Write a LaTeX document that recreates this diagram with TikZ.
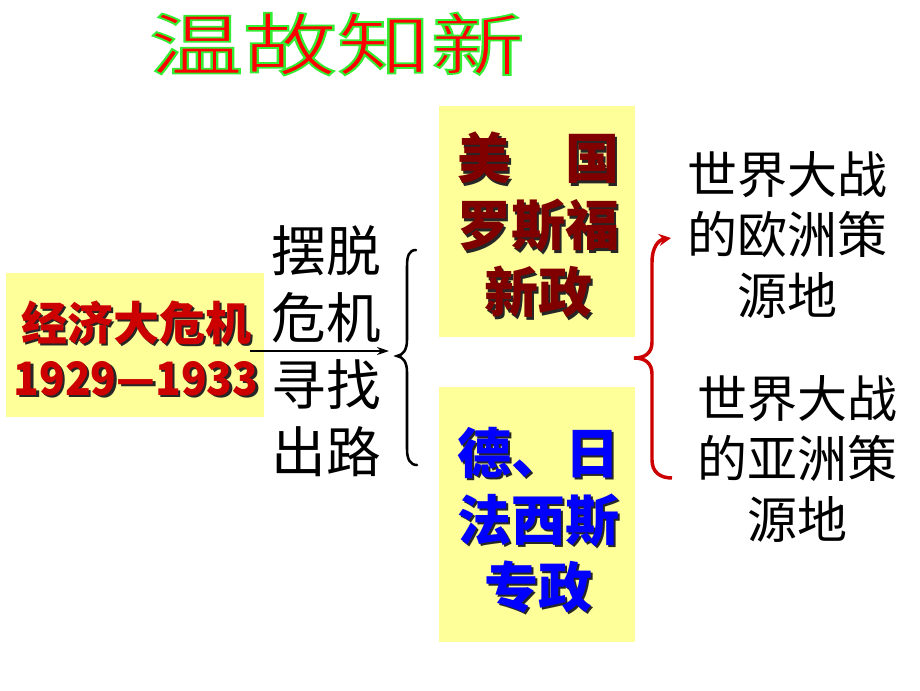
\documentclass[tikz,border=0pt]{standalone}
\usepackage{fontspec}
\newfontfamily\cjk{Noto Sans CJK SC}
\usetikzlibrary{arrows.meta}
\definecolor{boxyellow}{HTML}{FFFF99}
\definecolor{titlered}{HTML}{FF0000}
\definecolor{crisisred}{HTML}{CC0000}
\definecolor{maroon}{HTML}{800000}
\definecolor{fascblue}{HTML}{0000FF}
\definecolor{bracered}{HTML}{CC0000}
\newcommand\outlinedtitle[1]{\special{pdf:literal direct q 2 Tr 1.3 w 0.2 0.93 0.2 RG}#1\special{pdf:literal direct Q}}
\tikzset{
  ybox/.style={fill=boxyellow, inner sep=0pt},
  titletext/.style={inner sep=0pt, font=\cjk\fontsize{51}{60}\selectfont},
  boldtext/.style={inner sep=0pt, align=center, font=\cjk\bfseries\fontsize{40.5}{50.25}\selectfont},
  lefttext/.style={inner sep=0pt, align=center, font=\cjk\bfseries\fontsize{34.5}{41.25}\selectfont},
  midtext/.style={inner sep=0pt, align=center, font=\cjk\fontsize{41}{50.25}\selectfont},
  righttext/.style={inner sep=0pt, align=center, font=\cjk\fontsize{37.5}{45.5}\selectfont},
  shadowtext/.style={text=black!85}
}
\begin{document}
\begin{tikzpicture}[x=0.75pt,y=-0.75pt]
\useasboundingbox (0,0) rectangle (920,690);
\fill[white] (0,0) rectangle (920,690);

% title with green outline
\node[titletext, text=titlered] (title) at (337,44) {\outlinedtitle{\scalebox{1.38}[1]{温故知新}}};

% boxes
\node[ybox, minimum width=193.5pt, minimum height=108pt] (lbox) at (135,345) {};
\node[ybox, minimum width=147pt, minimum height=173.25pt] (tbox) at (537,221.5) {};
\node[ybox, minimum width=147pt, minimum height=191.25pt] (bbox) at (537,514.5) {};

% left box text
\node[lefttext, shadowtext] (lsh) at (138.5,350.5) {经济大危机\\\scalebox{0.92}[1]{1929—1933}};
\node[lefttext, text=crisisred] (ltext) at (136,348) {经济大危机\\\scalebox{0.92}[1]{1929—1933}};

% top box text
\node[boldtext, shadowtext] (tsh) at (540.5,227.5) {美　国\\罗斯福\\新政};
\node[boldtext, text=maroon] (ttext) at (538,225) {美　国\\罗斯福\\新政};

% bottom box text
\node[boldtext, shadowtext] (bsh) at (540.5,522.5) {德、日\\法西斯\\专政};
\node[boldtext, text=fascblue] (btext) at (538,520) {德、日\\法西斯\\专政};

% middle text
\node[midtext] (mid) at (326,351) {摆脱\\危机\\寻找\\出路};

% right texts
\node[righttext] (r1) at (787,235) {世界大战\\的欧洲策\\源地};
\node[righttext] (r2) at (797,459) {世界大战\\的亚洲策\\源地};

% arrow
\coordinate (a1) at (250,351);
\coordinate (a2) at (389,351);
\draw[line width=1.6pt, -{Stealth[length=9pt,width=6pt]}] (a1) -- (a2);

% black brace
\draw[line width=1.9pt, line cap=round] (416,250) .. controls (409,250) and (407,256) .. (407,266) -- (407,340) .. controls (407,350) and (403,355) .. (397,356) .. controls (403,357) and (407,362) .. (407,372) -- (407,449) .. controls (407,459) and (410,465) .. (417,465);

% red brace with arrow
\draw[line width=2.6pt, bracered, -{Stealth[length=9pt,width=9pt,inset=3pt]}] (672,478) .. controls (660,478) and (652,472) .. (652,460) -- (652,374) .. controls (652,363) and (645,358) .. (634,358) .. controls (645,358) and (652,353) .. (652,342) -- (652,262) .. controls (652,248) and (658,240) .. (671,238);
\end{tikzpicture}
\end{document}
